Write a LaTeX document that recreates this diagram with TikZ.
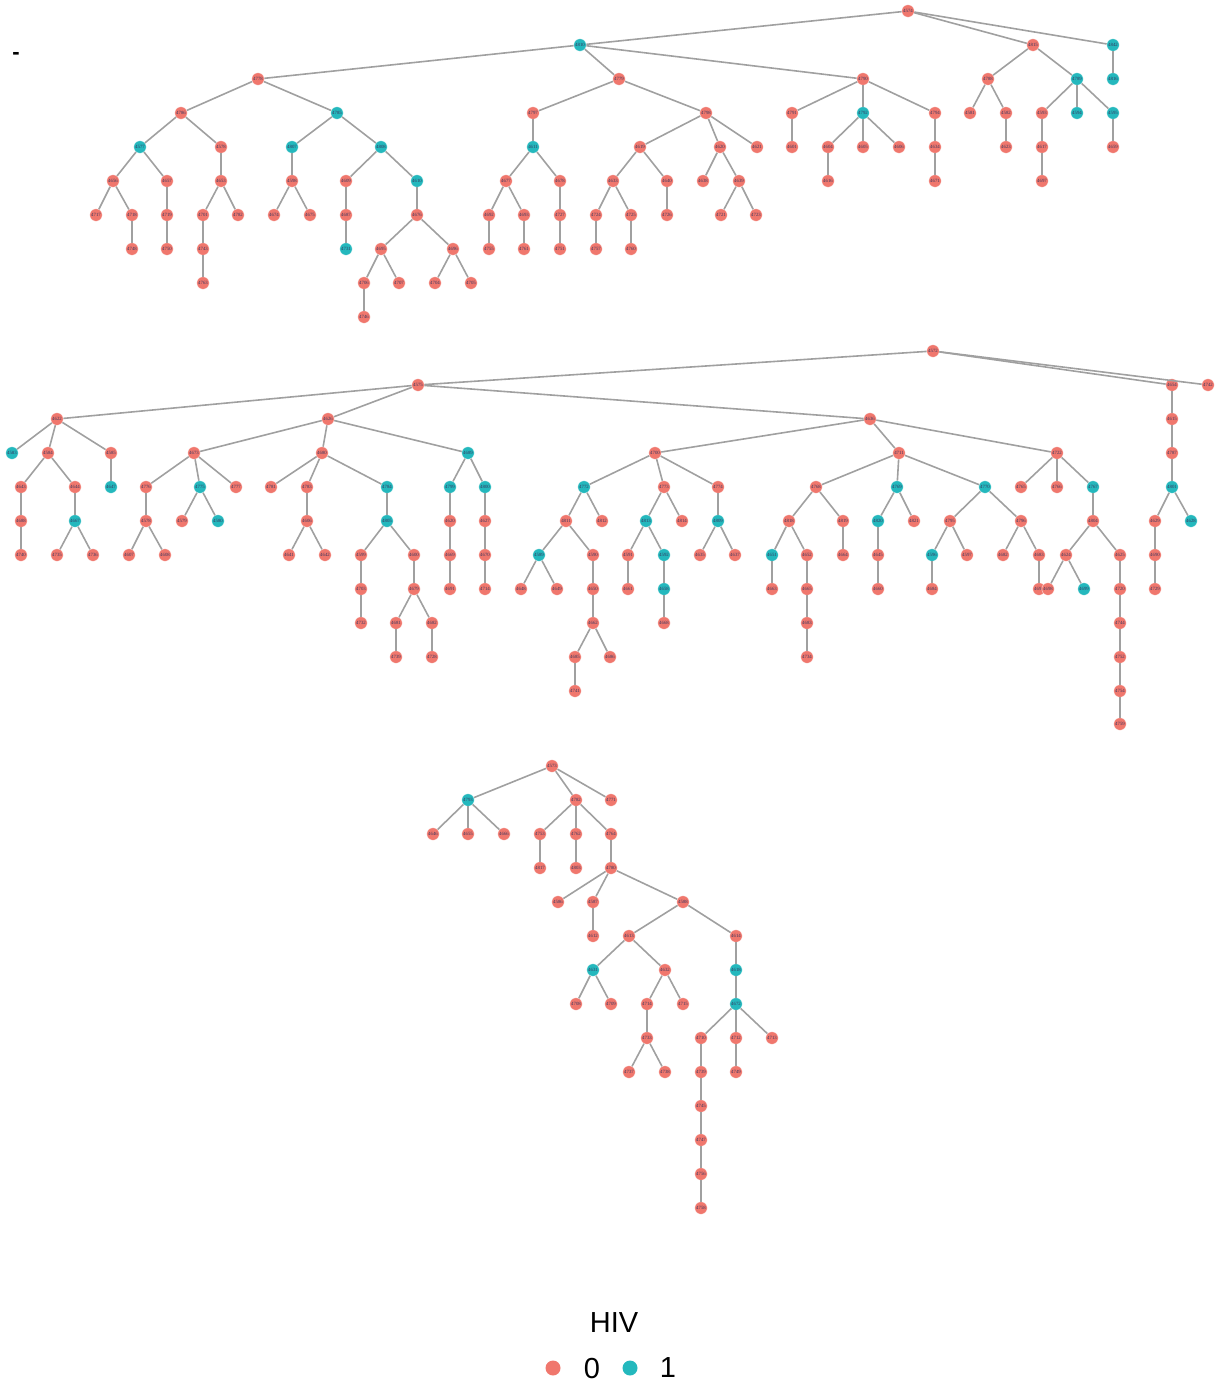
\documentclass[tikz,border=0pt]{standalone}
\usepackage{fontspec}
\setmainfont{Liberation Serif}
\newfontfamily\lsans{Liberation Sans}
\definecolor{hivr}{HTML}{F0776D}
\definecolor{hivc}{HTML}{24B8BD}
\definecolor{edgec}{RGB}{160,160,160}
\definecolor{labc}{RGB}{55,55,95}
\tikzset{
  rn/.style={circle,fill=hivr,draw=white,line width=0.3pt,minimum size=12.5pt,inner sep=0pt,
    font=\fontsize{4.8}{5}\selectfont,text=labc},
  cn/.style={rn,fill=hivc},
  edge/.style={draw=edgec,line width=1.6pt},
  legdot/.style={circle,minimum size=15pt,inner sep=0pt},
  legtxt/.style={font=\lsans\fontsize{29}{32}\selectfont,text=black,inner sep=0pt}
}
\begin{document}
\begin{tikzpicture}[x=1pt,y=-1pt]
\useasboundingbox (0,0) rectangle (1218,1387);
% ---------- red nodes ----------
\foreach \n/\x/\y in {
 4574/908/11, 4815/1033/45, 4778/258/79, 4779/619/79, 4790/863/79, 4788/988/79,
 4786/181/113, 4797/533/113, 4798/706/113, 4791/792/113, 4794/935/113, 4581/970/113,
 4582/1006/113, 4593/1042/113, 4578/221/147, 4619/640/147, 4620/720/147, 4621/757/147,
 4601/792/147, 4604/828/147, 4605/863/147, 4606/899/147, 4634/935/147, 4623/1006/147,
 4617/1042/147, 4659/1113/147, 4656/113/181, 4657/167/181, 4653/221/181, 4598/292/181,
 4609/346/181, 4677/506/181, 4678/560/181, 4633/613/181, 4640/667/181, 4638/703/181,
 4639/739/181, 4616/828/181, 4671/935/181, 4697/1042/181, 4717/96/215, 4718/132/215,
 4719/167/215, 4701/203/215, 4782/238/215, 4674/274/215, 4675/310/215, 4687/346/215,
 4676/417/215, 4692/489/215, 4693/524/215, 4727/560/215, 4724/596/215, 4725/631/215,
 4726/667/215, 4721/721/215, 4723/756/215, 4748/132/249, 4750/167/249, 4743/203/249,
 4695/381/249, 4696/453/249, 4755/489/249, 4761/524/249, 4751/560/249, 4757/596/249,
 4760/631/249, 4763/203/283, 4706/364/283, 4707/399/283, 4704/435/283, 4705/471/283,
 4746/364/317,
 4572/933/351, 4575/418/385, 4654/1172/385, 4742/1208/385, 4622/57/419, 4626/328/419,
 4636/870/419, 4615/1172/419, 4584/48/453, 4585/111/453, 4673/194/453, 4680/322/453,
 4700/655/453, 4711/899/453, 4722/1057/453, 4787/1172/453, 4643/21/487, 4644/75/487,
 4776/146/487, 4777/236/487, 4781/271/487, 4783/307/487, 4773/664/487, 4774/718/487,
 4768/816/487, 4765/1021/487, 4766/1057/487, 4688/21/521, 4579/182/521, 4627/485/521,
 4811/566/521, 4812/602/521, 4814/682/521, 4818/789/521, 4819/843/521, 4821/914/521,
 4795/950/521, 4796/1021/521, 4804/1093/521, 4629/1155/521, 4740/21/555, 4735/57/555,
 4736/93/555, 4607/129/555, 4608/165/555, 4641/289/555, 4642/325/555, 4599/361/555,
 4600/414/555, 4669/450/555, 4670/485/555, 4590/593/555, 4591/628/555, 4635/700/555,
 4637/735/555, 4652/807/555, 4664/843/555, 4645/878/555, 4597/967/555, 4682/1003/555,
 4683/1039/555, 4624/1066/555, 4625/1120/555, 4690/1155/555, 4703/361/589, 4679/414/589,
 4691/450/589, 4648/521/589, 4649/557/589, 4650/593/589, 4661/628/589, 4663/772/589,
 4665/807/589, 4660/878/589, 4684/932/589, 4694/1039/589, 4698/1048/589, 4720/1120/589,
 4729/1155/589, 4732/361/623, 4681/396/623, 4662/593/623, 4668/664/623, 4744/1120/623,
 4728/432/657, 4685/575/657, 4686/610/657, 4734/807/657, 4752/1120/657, 4741/575/691,
 4754/1120/691, 4759/1120/724,
 4573/552/766, 4771/611/800, 4646/433/834, 4655/468/834, 4666/504/834, 4753/540/834,
 4762/576/834, 4764/611/834, 4817/540/868, 4803/576/868, 4780/611/868, 4586/558/902,
 4587/593/902, 4588/683/902, 4612/593/936, 4613/629/936, 4614/736/936, 4632/665/970,
 4708/576/1004, 4709/611/1004, 4714/647/1004, 4715/683/1004, 4733/647/1038, 4710/701/1038,
 4712/736/1038, 4713/772/1038, 4737/629/1072, 4738/665/1072, 4739/701/1072, 4749/736/1072,
 4745/701/1106, 4747/701/1140, 4756/701/1174, 4758/701/1208}
 \node[rn] (n\n) at (\x,\y) {\n};
% red nodes whose printed number repeats
\foreach \n/\x/\y/\l in {
 4578b/146/521/4578, 4606b/307/521/4606, 4620b/450/521/4620, 4714b/485/589/4714,
 4682b/432/623/4682, 4683b/807/623/4683, 4739b/396/657/4739, 4782b/576/800/4782}
 \node[rn] (n\n) at (\x,\y) {\l};
% ---------- cyan nodes ----------
\foreach \n/\x/\y in {
 4810/580/45, 4842/1113/45, 4789/1077/79, 4816/1113/79, 4785/337/113, 4792/863/113,
 4594/1077/113, 4595/1113/113, 4577/140/147, 4807/292/147, 4808/381/147, 4611/533/147,
 4610/417/181, 4731/346/249,
 4583/12/453, 4689/468/453, 4647/111/487, 4775/200/487, 4784/387/487, 4799/450/487,
 4800/485/487, 4772/584/487, 4769/897/487, 4770/985/487, 4767/1093/487, 4801/1172/487,
 4667/75/521, 4580/218/521, 4805/387/521, 4813/646/521, 4809/718/521, 4820/878/521,
 4628/1191/521, 4589/539/555, 4592/664/555, 4651/772/555, 4596/932/555, 4658/664/589,
 4699/1084/589,
 4793/468/800, 4631/593/970, 4618/736/970, 4672/736/1004}
 \node[cn] (n\n) at (\x,\y) {\n};
% ---------- connectors ----------
\foreach \a/\b in {
 4574/4810, 4574/4815, 4574/4842, 4810/4778, 4810/4779, 4810/4790, 4815/4788, 4815/4789,
 4842/4816, 4778/4786, 4778/4785, 4779/4797, 4779/4798, 4790/4791, 4790/4792, 4790/4794,
 4788/4581, 4788/4582, 4789/4593, 4789/4594, 4789/4595, 4786/4577, 4786/4578, 4785/4807,
 4785/4808, 4797/4611, 4798/4619, 4798/4620, 4798/4621, 4791/4601, 4792/4604, 4792/4605,
 4792/4606, 4794/4634, 4582/4623, 4593/4617, 4595/4659, 4577/4656, 4577/4657, 4578/4653,
 4807/4598, 4808/4609, 4808/4610, 4611/4677, 4611/4678, 4619/4633, 4619/4640, 4620/4638,
 4620/4639, 4604/4616, 4634/4671, 4617/4697, 4656/4717, 4656/4718, 4657/4719, 4653/4701,
 4653/4782, 4598/4674, 4598/4675, 4609/4687, 4610/4676, 4677/4692, 4677/4693, 4678/4727,
 4633/4724, 4633/4725, 4640/4726, 4639/4721, 4639/4723, 4718/4748, 4719/4750, 4701/4743,
 4687/4731, 4676/4695, 4676/4696, 4692/4755, 4693/4761, 4727/4751, 4724/4757, 4725/4760,
 4743/4763, 4695/4706, 4695/4707, 4696/4704, 4696/4705, 4706/4746,
 4572/4575, 4572/4654, 4572/4742, 4575/4622, 4575/4626, 4575/4636, 4654/4615, 4615/4787,
 4787/4801, 4801/4629, 4801/4628, 4629/4690, 4690/4729, 4622/4583, 4622/4584, 4622/4585,
 4584/4643, 4584/4644, 4585/4647, 4643/4688, 4688/4740, 4644/4667, 4667/4735, 4667/4736,
 4626/4673, 4626/4680, 4626/4689, 4673/4776, 4673/4775, 4673/4777, 4776/4578b,
 4578b/4607, 4578b/4608, 4775/4579, 4775/4580, 4680/4781, 4680/4783, 4680/4784,
 4783/4606b, 4606b/4641, 4606b/4642, 4784/4805, 4805/4599, 4805/4600, 4599/4703,
 4703/4732, 4600/4679, 4679/4681, 4679/4682b, 4681/4739b, 4682b/4728, 4689/4799,
 4689/4800, 4799/4620b, 4620b/4669, 4669/4691, 4800/4627, 4627/4670, 4670/4714b,
 4636/4700, 4636/4711, 4636/4722, 4700/4772, 4700/4773, 4700/4774, 4772/4811, 4772/4812,
 4811/4589, 4811/4590, 4589/4648, 4589/4649, 4590/4650, 4650/4662, 4662/4685, 4662/4686,
 4685/4741, 4773/4813, 4773/4814, 4813/4591, 4813/4592, 4591/4661, 4592/4658, 4658/4668,
 4774/4809, 4809/4635, 4809/4637, 4711/4768, 4711/4769, 4711/4770, 4768/4818, 4768/4819,
 4818/4651, 4818/4652, 4651/4663, 4652/4665, 4665/4683b, 4683b/4734, 4819/4664,
 4769/4820, 4769/4821, 4820/4645, 4645/4660, 4770/4795, 4770/4796, 4795/4596, 4795/4597,
 4596/4684, 4796/4682, 4796/4683, 4683/4694, 4722/4765, 4722/4766, 4722/4767, 4767/4804,
 4804/4624, 4804/4625, 4624/4698, 4624/4699, 4625/4720, 4720/4744, 4744/4752, 4752/4754,
 4754/4759,
 4573/4793, 4573/4782b, 4573/4771, 4793/4646, 4793/4655, 4793/4666, 4782b/4753,
 4782b/4762, 4782b/4764, 4753/4817, 4762/4803, 4764/4780, 4780/4586, 4780/4587,
 4780/4588, 4587/4612, 4588/4613, 4588/4614, 4613/4631, 4613/4632, 4614/4618, 4631/4708,
 4631/4709, 4632/4714, 4632/4715, 4618/4672, 4714/4733, 4672/4710, 4672/4712, 4672/4713,
 4733/4737, 4733/4738, 4710/4739, 4712/4749, 4739/4745, 4745/4747, 4747/4756, 4756/4758}
 \draw[edge] (n\a) -- (n\b);
% ---------- legend ----------
\node[legtxt,font=\lsans\bfseries\fontsize{22}{24}\selectfont] (dash) at (16,56) {-};
\node[legtxt] (hivtitle) at (614,1323) {HIV};
\node[legdot,fill=hivr] (leg0) at (553,1368) {};
\node[legtxt] (leg0t) at (592,1368) {0};
\node[legdot,fill=hivc] (leg1) at (630,1368) {};
\node[legtxt] (leg1t) at (668,1368) {1};
\end{tikzpicture}
\end{document}
